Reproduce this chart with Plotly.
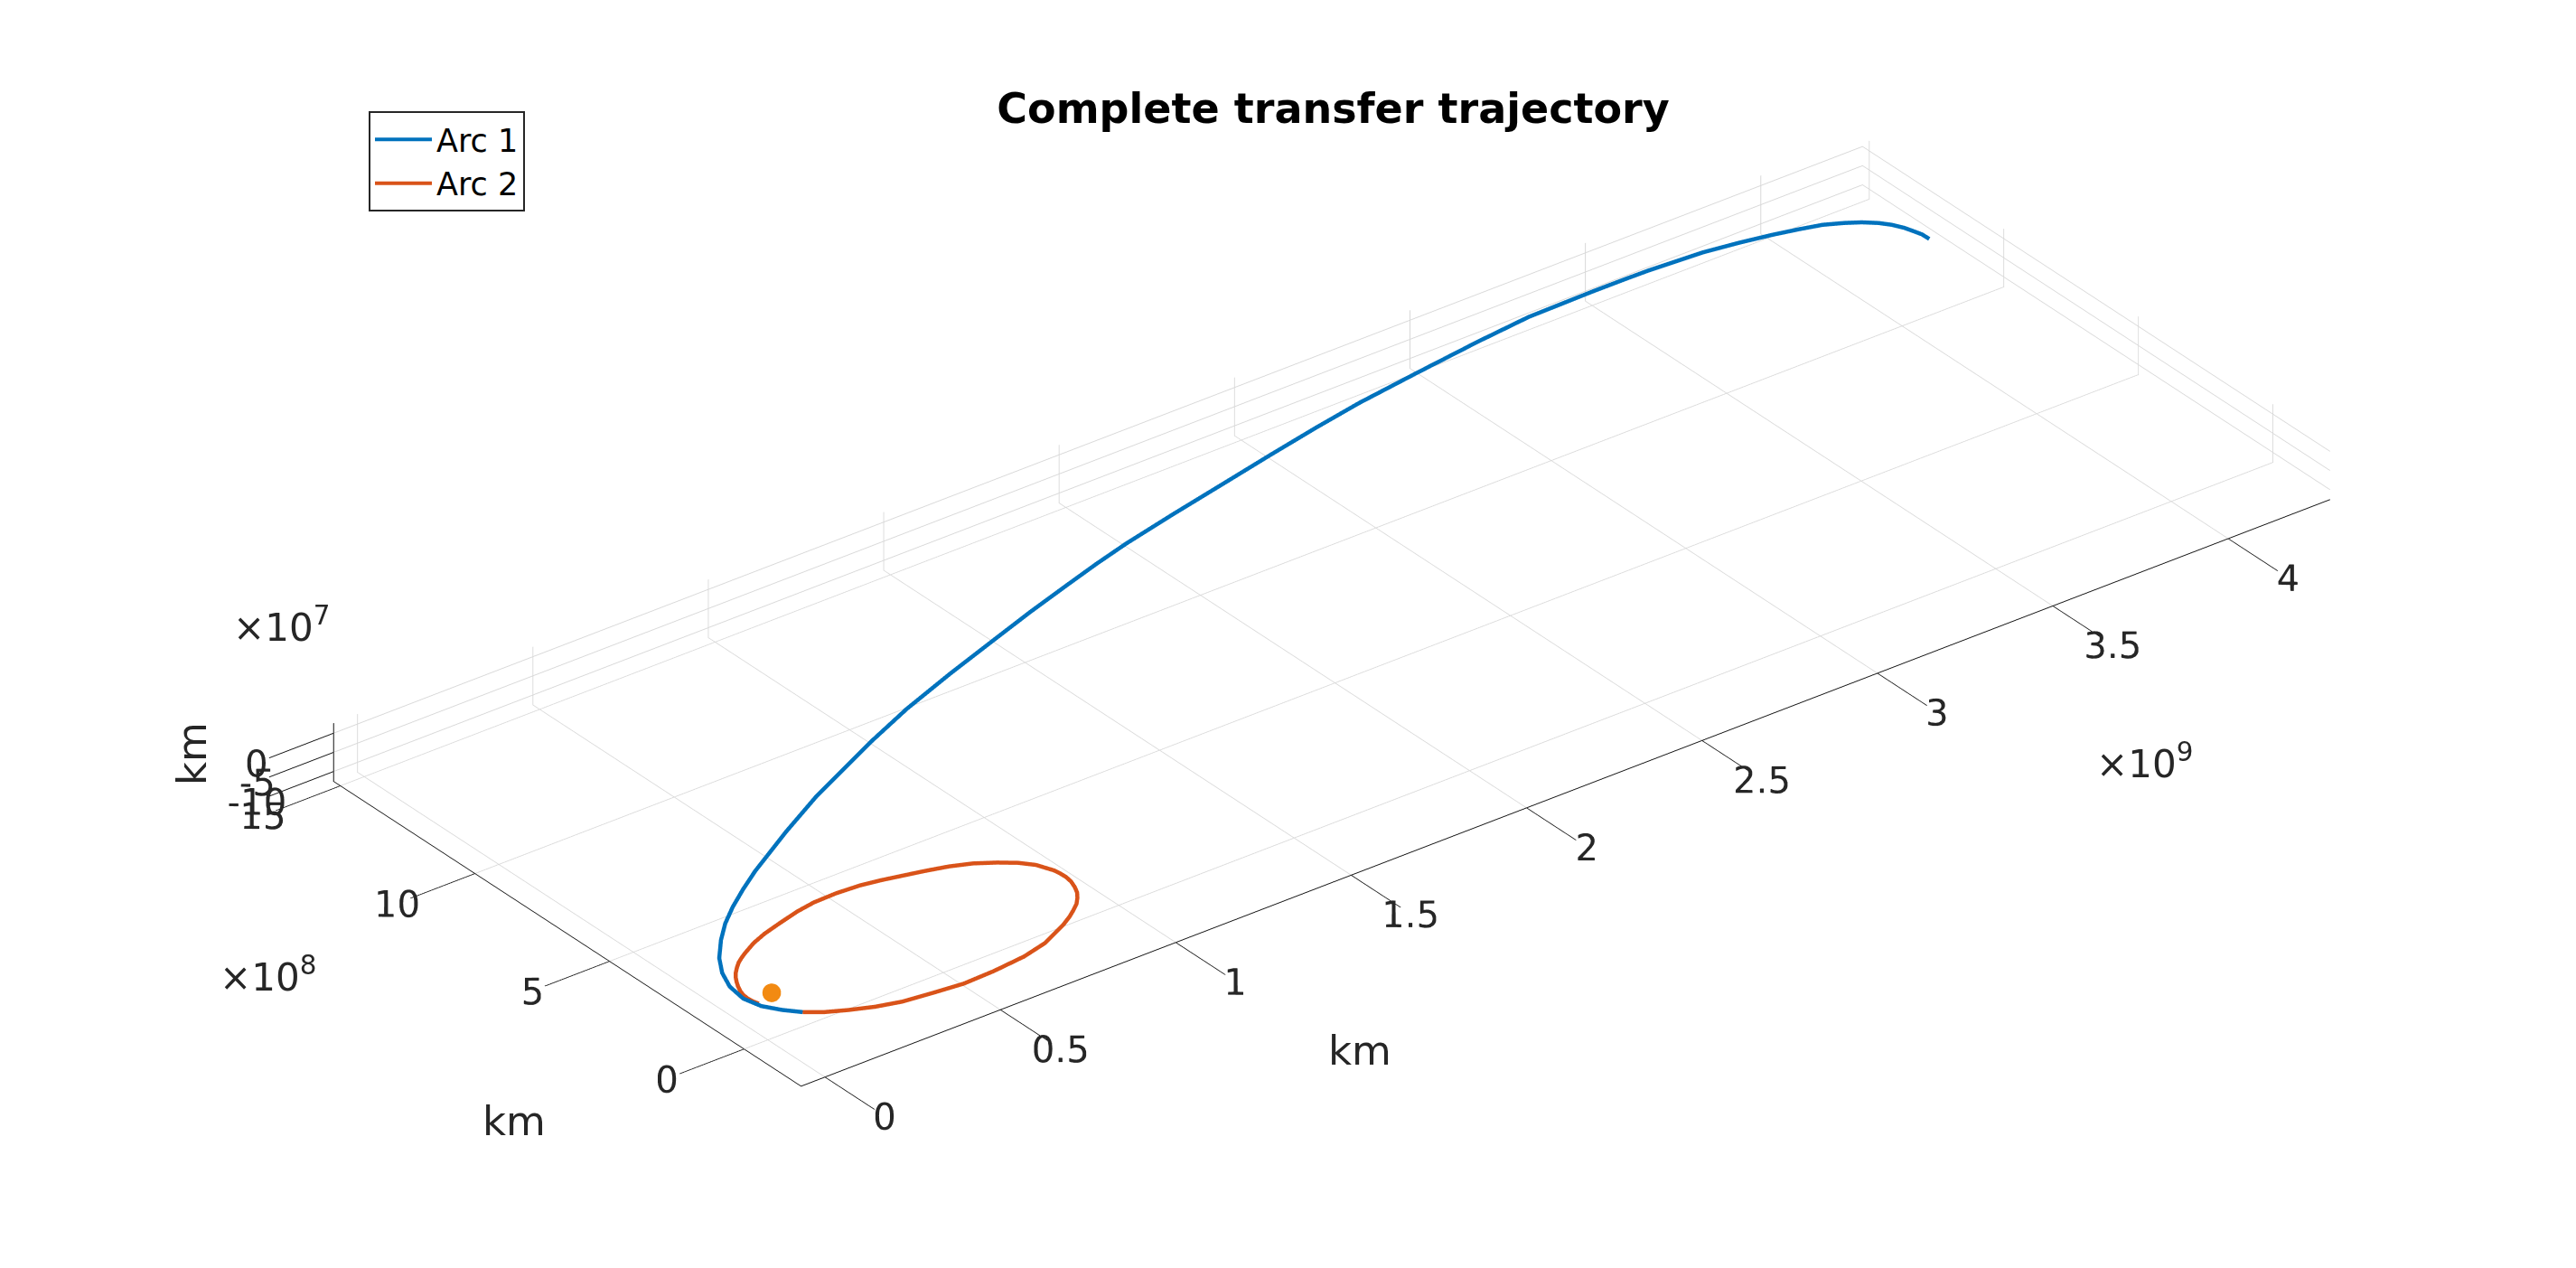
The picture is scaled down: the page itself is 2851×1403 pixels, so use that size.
import numpy as np
import plotly.graph_objects as go

# All trajectory values, in 1e9 km
arc1_x = [0.0182, -0.0248, -0.0517, -0.0634, -0.0546, -0.0308, 0.0053, 0.0597, 0.1145, 0.1753, 0.2460, 0.3193,
          0.3710, 0.4869, 0.6463, 0.7733, 0.8999, 1.0606, 1.2418, 1.4178, 1.5631, 1.7046, 1.8218, 1.9352,
          2.1099, 2.3034, 2.4536, 2.6140, 2.7643, 2.9703, 3.1589, 3.3239, 3.5121, 3.6090, 3.6787, 3.8294,
          3.9239, 4.0071, 4.0735, 4.1302, 4.1747, 4.2096, 4.2386, 4.2581, 4.2723, 4.2797, 4.2869, 4.2875]
arc1_y = [-0.1053, -0.0855, -0.0425, 0.0091, 0.0708, 0.1297, 0.1878, 0.2522, 0.3078, 0.3592, 0.4122, 0.4632,
          0.4954, 0.5678, 0.6609, 0.7257, 0.7906, 0.8661, 0.9403, 1.0079, 1.0634, 1.1141, 1.1552, 1.1918,
          1.2406, 1.2920, 1.3320, 1.3731, 1.4085, 1.4473, 1.4810, 1.5066, 1.5175, 1.5209, 1.5224, 1.5187,
          1.5073, 1.4935, 1.4791, 1.4647, 1.4438, 1.4229, 1.3989, 1.3747, 1.3478, 1.3250, 1.2999, 1.2737]
arc1_z = [-0.0116, 0.0, 0.0, 0.0, 0.0, 0.0, -0.0002, -0.0017, -0.0033, -0.0051, -0.0072, -0.0093,
          -0.0108, -0.0142, -0.0189, -0.0226, -0.0263, -0.0310, -0.0363, -0.0414, -0.0456, -0.0498, -0.0532,
          -0.0565, -0.0616, -0.0673, -0.0716, -0.0763, -0.0807, -0.0867, -0.0922, -0.0971, -0.1026, -0.1054,
          -0.1074, -0.1118, -0.1146, -0.1170, -0.1189, -0.1206, -0.1219, -0.1229, -0.1238, -0.1243, -0.1247,
          -0.1250, -0.1252, -0.1252]

arc2_x = [0.0182, 0.0600, 0.1115, 0.1717, 0.2359, 0.3185, 0.3980, 0.4863, 0.5788, 0.6518, 0.7297, 0.7624, 0.7858,
          0.8059, 0.8221, 0.8345, 0.8426, 0.8493, 0.8503, 0.8474, 0.8428, 0.8210, 0.7912, 0.7513, 0.7027, 0.6492,
          0.5919, 0.5405, 0.4856, 0.4327, 0.3674, 0.3018, 0.2484, 0.1848, 0.1307, 0.0888, 0.0463, 0.0291, 0.0131,
          -0.0025, -0.0178, -0.0286, -0.0376, -0.0455, -0.0521, -0.0557, -0.0556, -0.0522, -0.0464]
arc2_y = [-0.1053, -0.1312, -0.1534, -0.1755, -0.1918, -0.2014, -0.2093, -0.2060, -0.1969, -0.1799, -0.1454,
          -0.1270, -0.1111, -0.0960, -0.0783, -0.0611, -0.0427, -0.0193, 0.0009, 0.0193, 0.0358, 0.0743, 0.1024,
          0.1284, 0.1544, 0.1737, 0.1884, 0.1996, 0.2118, 0.2208, 0.2250, 0.2231, 0.2147, 0.1988, 0.1841, 0.1686,
          0.1466, 0.1364, 0.1257, 0.1119, 0.0965, 0.0825, 0.0673, 0.0515, 0.0349, 0.0191, 0.0025, -0.0120, -0.0267]
arc2_z = [-0.0116, -0.0144, -0.0169, -0.0193, -0.0211, -0.0222, -0.0230, -0.0227, -0.0217, -0.0198, -0.0160,
          -0.0140, -0.0122, -0.0106, -0.0086, -0.0067, -0.0047, -0.0021, 0.0001, 0.0021, 0.0039, 0.0082, 0.0113,
          0.0141, 0.0170, 0.0191, 0.0207, 0.0220, 0.0233, 0.0243, 0.0247, 0.0245, 0.0236, 0.0219, 0.0203, 0.0185,
          0.0161, 0.0150, 0.0138, 0.0123, 0.0106, 0.0091, 0.0074, 0.0057, 0.0038, 0.0021, 0.0003, -0.0013, -0.0029]

sun_x = [0.004]
sun_y = [-0.008]
sun_z = [0.0]

x_ticks = [0, 0.5, 1, 1.5, 2, 2.5, 3, 3.5, 4]
x_labels = ["0", "0.5", "1", "1.5", "2", "2.5", "3", "3.5", "4"]
y_ticks = [0, 5, 10, 15]
y_labels = ["0", "5", "10", "15"]
z_ticks = [-10, -5, 0]
z_labels = ["-10", "-5", "0"]

x_limits = [-0.068, 4.29]
y_limits = [-0.212, 1.525]
z_limits = [-0.126, 0.026]

W, H = 2851, 1403
DARK = "#262626"
GRID = "#d8d8d8"
FONT = "DejaVu Sans"
TICK = 22
OFF = 8  # the page body's own margin


def km(values, unit=1e9):
    return [v * unit for v in values]


fig = go.Figure()
fig.add_trace(go.Scatter3d(x=km(arc1_x), y=km(arc1_y), z=km(arc1_z), mode="lines", name="Arc 1", showlegend=False,
                           line=dict(color="#0072BD", width=9)))
fig.add_trace(go.Scatter3d(x=km(arc2_x), y=km(arc2_y), z=km(arc2_z), mode="lines", name="Arc 2", showlegend=False,
                           line=dict(color="#D95319", width=9)))
fig.add_trace(go.Scatter3d(x=km(sun_x), y=km(sun_y), z=km(sun_z), mode="markers", showlegend=False,
                           marker=dict(color="#F28A12", size=12, line=dict(width=0))))
# thin keys for the legend, since the key takes its stroke from its trace
fig.add_trace(go.Scatter3d(x=[None], y=[None], z=[None], mode="lines", name="Arc 1",
                           line=dict(color="#0072BD", width=4)))
fig.add_trace(go.Scatter3d(x=[None], y=[None], z=[None], mode="lines", name="Arc 2",
                           line=dict(color="#D95319", width=4)))


def axis(limits, ticks, labels, unit):
    return dict(range=km(limits), tickmode="array", tickvals=km(ticks, unit), ticktext=labels, tickangle=0,
                showgrid=True, gridcolor=GRID, gridwidth=2, zeroline=False, showline=True,
                linecolor="#111111", linewidth=2, ticks="outside", ticklen=90, tickcolor="#111111", tickwidth=2,
                showbackground=False, showspikes=False, title=dict(text=""),
                tickfont=dict(family=FONT, size=TICK, color=DARK))


def text(s, px, py, size=42, angle=0):
    return dict(text=s, x=(px - OFF) / W, y=1 - (py - OFF) / H, xref="paper", yref="paper", showarrow=False,
                textangle=angle, xanchor="center", yanchor="middle",
                font=dict(family=FONT, size=size, color=DARK))


spans = [x_limits[1] - x_limits[0], y_limits[1] - y_limits[0], z_limits[1] - z_limits[0]]
S = 1.484 / 2
D = 5.0
DX = -3 / W
DY = -2 / H
fig.update_layout(
    width=W, height=H, margin=dict(l=0, r=0, t=0, b=0), paper_bgcolor="white",
    title=dict(text="<b>Complete transfer trajectory</b>", x=1475.5 / W - OFF / W, y=1 - (120 - OFF) / H,
               xanchor="center", yanchor="middle", font=dict(family=FONT, size=46, color="black")),
    legend=dict(x=(408 - OFF) / W, y=1 - (123 - OFF) / H, xanchor="left", yanchor="top", bordercolor=DARK,
                borderwidth=2, bgcolor="white", itemwidth=63, font=dict(family=FONT, size=35, color="black"),
                tracegroupgap=0),
    scene=dict(
        domain=dict(x=[0.048 - OFF / W + DX, 0.988 - OFF / W + DX], y=[0.049 + OFF / H + DY, 0.989 + OFF / H + DY]),
        xaxis=axis(x_limits, x_ticks, x_labels, 1e9),
        yaxis=axis(y_limits, y_ticks, y_labels, 1e8),
        zaxis=axis(z_limits, z_ticks, z_labels, 1e7),
        aspectmode="manual",
        aspectratio=dict(x=spans[0] * S, y=spans[1] * S, z=spans[2] * S),
        camera=dict(projection=dict(type="orthographic"), up=dict(x=0, y=0, z=1), center=dict(x=0, y=0, z=0),
                    eye=dict(x=-0.527 * D, y=-0.687 * D, z=0.5 * D)),
    ),
    annotations=[
        text("×10<sup>9</sup>", 2373, 842),
        text("×10<sup>8</sup>", 296, 1078),
        text("×10<sup>7</sup>", 311, 691),
        text("km", 1505, 1162, size=45),
        text("km", 569, 1240, size=45),
        text("km", 212, 834, size=45, angle=-90),
    ],
)
fig.write_html("out.html", config=dict(displayModeBar=False))
